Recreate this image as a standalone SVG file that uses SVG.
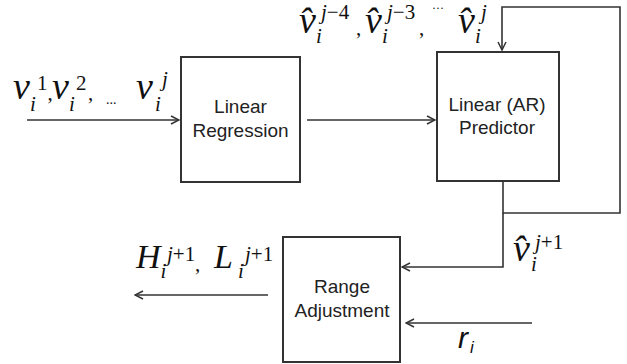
<svg xmlns="http://www.w3.org/2000/svg" width="627" height="364" viewBox="0 0 627 364">
<style>
.box{fill:#fff;stroke:#333;stroke-width:2}
.lbl{font-family:"Liberation Sans",Arial,sans-serif;font-size:19px;fill:#222;text-anchor:middle}
.conn{fill:none;stroke:#333;stroke-width:1.6}
.m{font-family:"Liberation Serif","Times New Roman",serif;font-style:italic;font-size:38px;fill:#111}
.mc{font-family:"Liberation Serif","Times New Roman",serif;font-style:italic;font-size:34px;fill:#111}
.s{font-family:"Liberation Serif","Times New Roman",serif;font-size:21px;fill:#111}
.si{font-family:"Liberation Serif","Times New Roman",serif;font-style:italic;font-size:21px;fill:#111}
</style>
<defs>
<marker id="ah" viewBox="0 0 10 10" refX="9" refY="5" markerWidth="10" markerHeight="10" markerUnits="userSpaceOnUse" orient="auto">
<path d="M1,1 L9,5 L1,9" fill="none" stroke="#333" stroke-width="1.5"/>
</marker>
</defs>
<rect width="627" height="364" fill="#fff"/>
<g id="connectors">
<path class="conn" d="M27,120 H179" marker-end="url(#ah)"/>
<path class="conn" d="M307,120 H435" marker-end="url(#ah)"/>
<path class="conn" d="M503,181 V213 H620 V7 H502 V50" marker-end="url(#ah)"/>
<path class="conn" d="M503,213 V267 H402" marker-end="url(#ah)"/>
<path class="conn" d="M268,295 H135" marker-end="url(#ah)"/>
<path class="conn" d="M532,323 H406" marker-end="url(#ah)"/>
</g>
<g id="linear-regression">
<rect class="box" x="181" y="57" width="119" height="125"/>
<text class="lbl" x="240.5" y="113">Linear</text>
<text class="lbl" x="240.5" y="137">Regression</text>
</g>
<g id="ar-predictor">
<rect class="box" x="437" y="52" width="122" height="129"/>
<text class="lbl" x="497" y="111">Linear (AR)</text>
<text class="lbl" x="497" y="134">Predictor</text>
</g>
<g id="range-adjustment">
<rect class="box" x="283" y="237" width="117" height="125"/>
<text class="lbl" x="342" y="293">Range</text>
<text class="lbl" x="342" y="317">Adjustment</text>
</g>
<g id="input-label">
<text class="m" x="13" y="99">v</text><text class="s" x="37" y="90">1</text><text class="si" x="30" y="111">i</text><text class="s" x="47.5" y="100">,</text>
<text class="m" x="52" y="99">v</text><text class="s" x="76" y="90">2</text><text class="si" x="69" y="111">i</text><text class="s" x="88" y="100">,</text>
<text class="s" x="106" y="104" style="font-size:14px">...</text>
<text class="m" x="136" y="99">v</text><text class="si" x="162" y="86">j</text><text class="si" x="155" y="111">i</text>
</g>
<g id="history-label">
<text class="m" x="299" y="33">v̂</text><text class="si" x="321" y="19">j<tspan style="font-style:normal">−4</tspan></text><text class="si" x="316" y="43">i</text><text class="s" x="356" y="35">,</text>
<text class="m" x="365" y="33">v̂</text><text class="si" x="387" y="19">j<tspan style="font-style:normal">−3</tspan></text><text class="si" x="382" y="43">i</text><text class="s" x="419" y="35">,</text>
<text class="s" x="432" y="12" style="font-size:12px">···</text>
<text class="m" x="458" y="33">v̂</text><text class="si" x="481" y="19">j</text><text class="si" x="475" y="43">i</text>
</g>
<g id="prediction-label">
<text class="m" x="513" y="261">v̂</text><text class="si" x="535" y="249">j<tspan style="font-style:normal">+1</tspan></text><text class="si" x="531" y="271">i</text>
</g>
<g id="output-label">
<text class="mc" x="136" y="268">H</text><text class="si" x="167" y="261">j<tspan style="font-style:normal">+1</tspan></text><text class="si" x="160.5" y="278">i</text><text class="s" x="195" y="271">,</text>
<text class="mc" x="214" y="268">L</text><text class="si" x="245" y="261">j<tspan style="font-style:normal">+1</tspan></text><text class="si" x="238" y="278">i</text>
</g>
<g id="r-label">
<text x="458" y="348" style="font-family:'Liberation Sans',Arial,sans-serif;font-style:italic;font-size:30px;fill:#111">r</text>
<text x="470" y="353" style="font-family:'Liberation Sans',Arial,sans-serif;font-style:italic;font-size:17px;fill:#111">i</text>
</g>
</svg>
